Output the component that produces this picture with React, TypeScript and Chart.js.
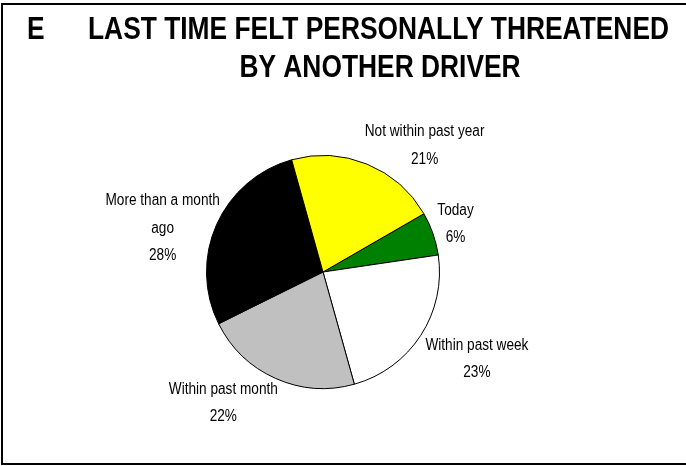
import React, { useEffect, useRef } from "react";
import { Chart, registerables } from "chart.js";

Chart.register(...registerables);

const categories = ["Today", "Within past week", "Within past month", "More than a month ago", "Not within past year"];
const labelLines = [["Today"], ["Within past week"], ["Within past month"], ["More than a month", "ago"], ["Not within past year"]];
const values = [6, 23, 22, 28, 21];
const colors = ["#008000", "#FFFFFF", "#C0C0C0", "#000000", "#FFFF00"];
const titleLetter = "E";
const titleLine1 = "LAST TIME FELT PERSONALLY THREATENED";
const titleLine2 = "BY ANOTHER DRIVER";

// label centre placement: angle (deg, clockwise from 12 o'clock) and distance as a multiple of the radius
const labelAngles = [70.2, 119.5, 217.3, 285.3, 38.8];
const labelDist = [1.209, 1.518, 1.412, 1.427, 1.392];

const FONT = '"Liberation Sans Narrow", "Arial Narrow", "Liberation Sans", Arial, sans-serif';

function drawCondensed(ctx: CanvasRenderingContext2D, text: string, x: number, y: number, align: CanvasTextAlign, sx: number) {
  ctx.save();
  ctx.translate(x, y);
  ctx.scale(sx, 1);
  ctx.textAlign = align;
  ctx.fillText(text, 0, 0);
  ctx.restore();
}

const decorPlugin = {
  id: "decor",
  afterDraw(chart: any) {
    const ctx: CanvasRenderingContext2D = chart.ctx;
    ctx.save();
    // frame
    ctx.strokeStyle = "#000";
    ctx.lineWidth = 2;
    ctx.strokeRect(2, 4, 700, 460);
    // title
    ctx.fillStyle = "#000";
    ctx.font = `bold 31px ${FONT}`;
    ctx.textBaseline = "alphabetic";
    const tsx = Math.min(1, 581 / ctx.measureText(titleLine1).width);
    drawCondensed(ctx, titleLetter, 27, 39, "left", tsx);
    drawCondensed(ctx, titleLine1, 88, 39, "left", tsx);
    drawCondensed(ctx, titleLine2, 380, 77, "center", tsx);
    // labels
    const meta = chart.getDatasetMeta(0);
    const total = values.reduce((a, b) => a + b, 0);
    ctx.font = `16px ${FONT}`;
    ctx.textBaseline = "middle";
    const lsx = Math.min(1, 103 / ctx.measureText("Within past week").width);
    meta.data.forEach((arc: any, i: number) => {
      const r = arc.outerRadius;
      const a = (labelAngles[i] * Math.PI) / 180;
      const cx = arc.x + Math.sin(a) * r * labelDist[i];
      const cy = arc.y - Math.cos(a) * r * labelDist[i];
      const lines = [...labelLines[i], Math.round((values[i] / total) * 100) + "%"];
      const gap = 27.5;
      lines.forEach((t, k) => {
        drawCondensed(ctx, t, cx, cy + (k - (lines.length - 1) / 2) * gap, "center", lsx);
      });
    });
    ctx.restore();
  },
};

export default function App() {
  const ref = useRef<HTMLCanvasElement>(null);
  useEffect(() => {
    if (!ref.current) return;
    const chart = new Chart(ref.current, {
      type: "pie",
      data: {
        labels: categories,
        datasets: [
          {
            data: values,
            backgroundColor: colors,
            borderColor: "#000",
            borderWidth: 1,
          },
        ],
      },
      options: {
        responsive: false,
        animation: false,
        rotation: 60,
        layout: { padding: { left: 206, right: 246, top: 155, bottom: 77 } },
        plugins: {
          legend: { display: false },
          tooltip: { enabled: false },
          title: { display: false },
        },
      },
      plugins: [decorPlugin],
    });
    return () => chart.destroy();
  }, []);
  return (
    <div style={{ position: "fixed", left: 0, top: 0, width: 686, height: 466, background: "#fff" }}>
      <canvas ref={ref} width={686} height={466} />
    </div>
  );
}
